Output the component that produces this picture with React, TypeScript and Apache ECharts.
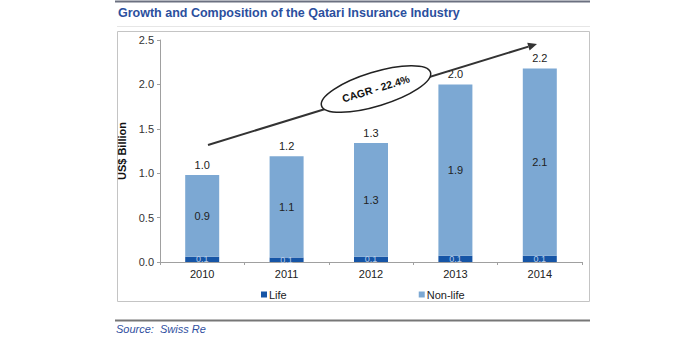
import React, { useEffect, useRef } from "react";
import * as echarts from "echarts";

const years = ["2010", "2011", "2012", "2013", "2014"];
const life = [0.06, 0.05, 0.06, 0.07, 0.07];
const nonLife = [0.92, 1.14, 1.28, 1.93, 2.11];
const totals = [0.98, 1.19, 1.34, 2.0, 2.18];
const yTicks = [0, 0.5, 1.0, 1.5, 2.0, 2.5];

const titleText = "Growth and Composition of the Qatari Insurance Industry";
const cagrText = "CAGR - 22.4%";
const sourceText = "Source:  Swiss Re";

export default function App() {
  const ref = useRef<HTMLDivElement>(null);
  useEffect(() => {
    if (!ref.current) return;
    const chart = echarts.init(ref.current, null, { renderer: "svg" });
    const x0 = 208, y0 = 145, x1 = 537, y1 = 44;
    const ang = Math.atan2(y1 - y0, x1 - x0);
    const hl = 9, hw = 4;
    const bx = x1 - hl * Math.cos(ang), by = y1 - hl * Math.sin(ang);
    const px = -Math.sin(ang) * hw, py = Math.cos(ang) * hw;
    const rot = -ang;
    chart.setOption({
      animation: false,
      textStyle: { fontFamily: "Arial, 'Liberation Sans', sans-serif" },
      grid: { left: 160, right: 110, top: 40, bottom: 76 },
      legend: {
        data: ["Life", "Non-life"],
        left: 256,
        top: 284,
        itemWidth: 6,
        itemHeight: 6,
        itemGap: 132,
        icon: "rect",
        textStyle: { fontSize: 11, color: "#222", padding: [0, 0, 0, -3] },
      },
      xAxis: {
        type: "category",
        data: years,
        axisLine: { lineStyle: { color: "#a0a0a0" } },
        axisTick: { show: true, length: 3, lineStyle: { color: "#a0a0a0" } },
        axisLabel: { fontSize: 11, color: "#222", margin: 6 },
      },
      yAxis: {
        type: "value",
        min: yTicks[0],
        max: yTicks[yTicks.length - 1],
        interval: 0.5,
        name: "US$ Billion",
        nameLocation: "middle",
        nameGap: 29,
        nameTextStyle: { fontSize: 11, fontWeight: "bold", color: "#111" },
        splitLine: { show: false },
        axisLine: { show: true, lineStyle: { color: "#a0a0a0" } },
        axisTick: { show: true, length: 3, lineStyle: { color: "#a0a0a0" } },
        axisLabel: {
          fontSize: 11,
          color: "#333",
          margin: 6,
          formatter: (v: number) => v.toFixed(1),
        },
      },
      series: [
        {
          name: "Life",
          type: "bar",
          stack: "s",
          barWidth: 34,
          data: life,
          itemStyle: { color: "#1655a6" },
          label: {
            show: true,
            position: "inside",
            fontSize: 9,
            color: "#b8cde8",
            formatter: (p: any) => p.value.toFixed(1),
          },
        },
        {
          name: "Non-life",
          type: "bar",
          stack: "s",
          barWidth: 34,
          data: nonLife,
          itemStyle: { color: "#7ca8d3" },
          label: {
            show: true,
            position: "inside",
            fontSize: 11,
            color: "#222",
            formatter: (p: any) => p.value.toFixed(1),
          },
        },
        {
          name: "Total",
          type: "line",
          data: totals,
          symbol: "circle",
          symbolSize: 1,
          showSymbol: true,
          itemStyle: { color: "rgba(0,0,0,0)" },
          lineStyle: { width: 0, opacity: 0 },
          label: {
            show: true,
            position: "top",
            distance: 4,
            fontSize: 11,
            color: "#222",
            formatter: (p: any) => p.value.toFixed(1),
          },
        },
      ],
      graphic: [
        { type: "line", shape: { x1: 115, y1: 1.5, x2: 590, y2: 1.5 }, style: { stroke: "#6b7080", lineWidth: 2 } },
        {
          type: "text",
          left: 118,
          top: 6,
          style: { text: titleText, font: "bold 12.5px Arial, 'Liberation Sans', sans-serif", fill: "#2b4f9e" },
        },
        { type: "line", shape: { x1: 117, y1: 26.5, x2: 590, y2: 26.5 }, style: { stroke: "#e6e6e6", lineWidth: 1 } },
        {
          type: "rect",
          shape: { x: 117.5, y: 31.5, width: 472, height: 270 },
          style: { fill: "none", stroke: "#c4c4c4", lineWidth: 1 },
          z: -1,
        },
        { type: "line", shape: { x1: 115, y1: 320.5, x2: 590, y2: 320.5 }, style: { stroke: "#777", lineWidth: 2 } },
        {
          type: "text",
          left: 116,
          top: 323,
          style: { text: sourceText, font: "italic 11px Arial, 'Liberation Sans', sans-serif", fill: "#2f4fa0" },
        },
        {
          type: "line",
          shape: { x1: x0, y1: y0, x2: bx, y2: by },
          style: { stroke: "#333", lineWidth: 2 },
          z: 10,
        },
        {
          type: "polygon",
          shape: { points: [[x1, y1], [bx + px, by + py], [bx - px, by - py]] },
          style: { fill: "#333" },
          z: 10,
        },
        {
          type: "ellipse",
          x: 376,
          y: 89,
          rotation: rot,
          shape: { cx: 0, cy: 0, rx: 57, ry: 17 },
          style: { fill: "#fff", stroke: "#222", lineWidth: 1.5 },
          z: 11,
        },
        {
          type: "text",
          x: 376,
          y: 89,
          rotation: rot,
          style: {
            text: cagrText,
            font: "bold 10.5px Arial, 'Liberation Sans', sans-serif",
            fill: "#111",
            align: "center",
            verticalAlign: "middle",
          },
          z: 12,
        },
      ],
    });
    return () => chart.dispose();
  }, []);
  return <div ref={ref} style={{ width: 692, height: 338, position: "absolute", left: 0, top: 0 }} />;
}
